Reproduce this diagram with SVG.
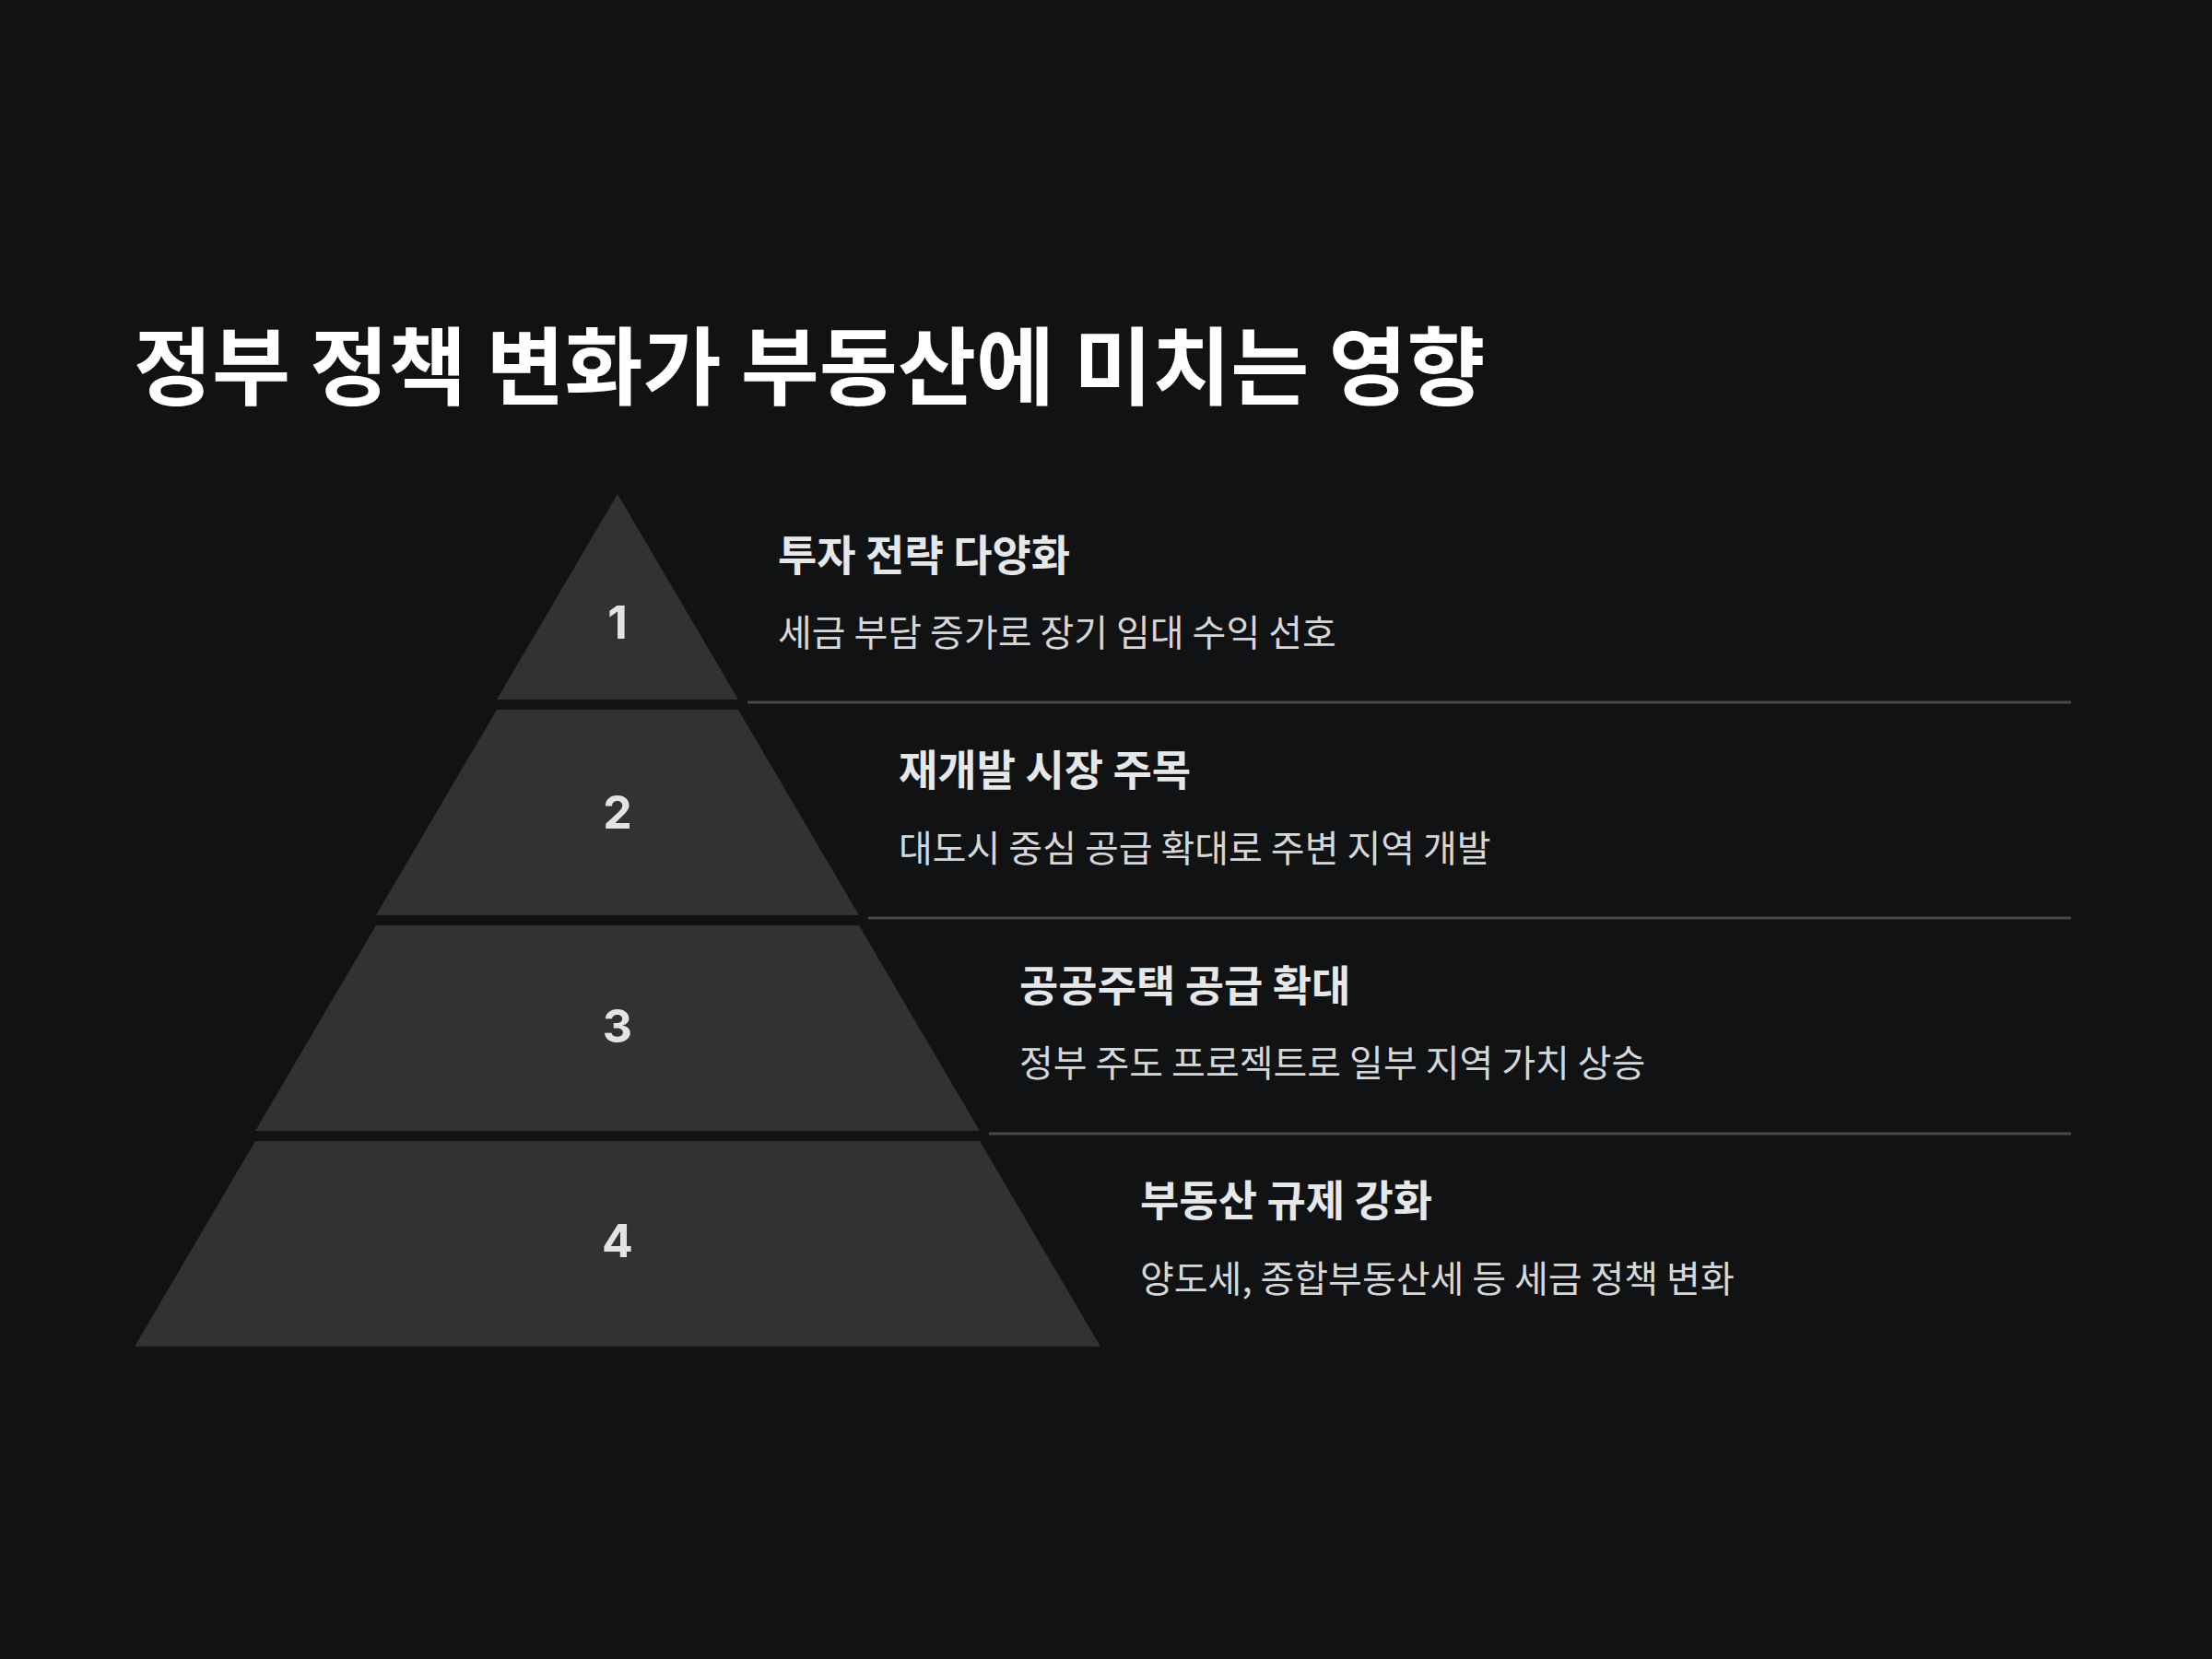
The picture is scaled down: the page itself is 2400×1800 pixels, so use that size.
<svg xmlns="http://www.w3.org/2000/svg" width="2400" height="1800" viewBox="0 0 2400 1800">
<style>
.title{font-family:"Noto Sans CJK KR","Noto Sans",sans-serif;font-weight:700;font-size:92.5px;fill:#ffffff}
.tier{fill:#313234}
.num{font-family:Inter,"Open Sans",sans-serif;font-weight:700;font-size:50px;fill:#e2e3e5;text-anchor:middle}
.head{font-family:"Noto Sans CJK KR","Noto Sans",sans-serif;font-weight:700;font-size:46px;fill:#e6e7e9}
.desc{font-family:"Noto Sans CJK KR","Noto Sans",sans-serif;font-weight:400;font-size:40px;fill:#d6d7d9}
.sep{stroke:#48494c;stroke-width:3;fill:none}
</style>
<rect width="2400" height="1800" fill="#111214"/>
<text class="title" x="145" y="432">정부 정책 변화가 부동산에 미치는 영향</text>
<g id="connectors">
<line class="sep" x1="811" y1="762" x2="2247" y2="762"/>
<line class="sep" x1="942" y1="996" x2="2247" y2="996"/>
<line class="sep" x1="1073" y1="1230" x2="2247" y2="1230"/>
</g>
<g id="tier1">
<polygon class="tier" points="670,536 801,759 539,759"/>
<text class="num" x="670" y="693">1</text>
<text class="head" x="844" y="619">투자 전략 다양화</text>
<text class="desc" x="844" y="701">세금 부담 증가로 장기 임대 수익 선호</text>
</g>
<g id="tier2">
<polygon class="tier" points="539,770 801,770 932,993 408,993"/>
<text class="num" x="670" y="899">2</text>
<text class="head" x="975" y="852">재개발 시장 주목</text>
<text class="desc" x="975" y="935">대도시 중심 공급 확대로 주변 지역 개발</text>
</g>
<g id="tier3">
<polygon class="tier" points="408,1004 932,1004 1063,1227 277,1227"/>
<text class="num" x="670" y="1131">3</text>
<text class="head" x="1106" y="1086">공공주택 공급 확대</text>
<text class="desc" x="1106" y="1168">정부 주도 프로젝트로 일부 지역 가치 상승</text>
</g>
<g id="tier4">
<polygon class="tier" points="277,1238 1063,1238 1194,1461 146,1461"/>
<text class="num" x="670" y="1364">4</text>
<text class="head" x="1237" y="1319">부동산 규제 강화</text>
<text class="desc" x="1237" y="1402">양도세, 종합부동산세 등 세금 정책 변화</text>
</g>
</svg>
